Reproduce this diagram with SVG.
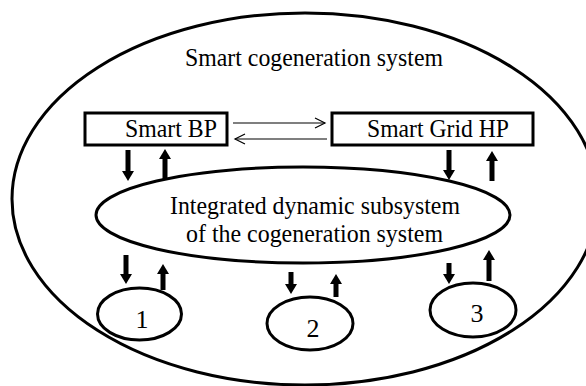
<svg xmlns="http://www.w3.org/2000/svg" width="586" height="386" viewBox="0 0 586 386">
<style>
.shape{fill:none;stroke:#000;stroke-width:3}
.box{fill:#fff;stroke:#000;stroke-width:3}
.t{font-family:"Liberation Serif","Times New Roman",serif;font-size:26px;fill:#000}
.thick{stroke:#000;stroke-width:5;fill:none}
.thin{stroke:#000;stroke-width:1.2;fill:none}
</style>
<defs>
<marker id="head" markerUnits="userSpaceOnUse" markerWidth="10" markerHeight="12" refX="1" refY="6" orient="auto" overflow="visible">
<path d="M0,0 L10,6 L0,12 z" fill="#000"/>
</marker>
<marker id="open" markerUnits="userSpaceOnUse" markerWidth="10" markerHeight="10" refX="10" refY="5" orient="auto" overflow="visible">
<path d="M0,0 L10,5 L0,10" fill="none" stroke="#000" stroke-width="1.2"/>
</marker>
</defs>
<rect width="586" height="386" fill="#fff"/>
<g id="system">
<ellipse class="shape" cx="305" cy="199" rx="293" ry="186"/>
<text class="t" x="185" y="66" textLength="258" lengthAdjust="spacingAndGlyphs">Smart cogeneration system</text>
</g>
<g id="smart-bp">
<rect class="box" x="85" y="113" width="142" height="32"/>
<text class="t" x="125" y="137" textLength="92" lengthAdjust="spacingAndGlyphs">Smart BP</text>
</g>
<g id="smart-grid-hp">
<rect class="box" x="332" y="113" width="201" height="32"/>
<text class="t" x="367" y="137" textLength="142" lengthAdjust="spacingAndGlyphs">Smart Grid HP</text>
</g>
<g id="subsystem">
<ellipse class="shape" cx="303" cy="215" rx="207" ry="48"/>
<text class="t" x="170" y="214" textLength="290" lengthAdjust="spacingAndGlyphs">Integrated dynamic subsystem</text>
<text class="t" x="186" y="242" textLength="257" lengthAdjust="spacingAndGlyphs">of the cogeneration system</text>
</g>
<g id="node-1">
<ellipse class="shape" cx="139.5" cy="314" rx="42" ry="26"/>
<text class="t" x="142" y="328" text-anchor="middle">1</text>
</g>
<g id="node-2">
<ellipse class="shape" cx="310" cy="323.5" rx="43" ry="26.5"/>
<text class="t" x="313" y="337" text-anchor="middle">2</text>
</g>
<g id="node-3">
<ellipse class="shape" cx="473" cy="310" rx="43" ry="27"/>
<text class="t" x="477" y="322" text-anchor="middle">3</text>
</g>
<g id="connectors">
<path class="thin" d="M233,123 L325,123" marker-end="url(#open)"/>
<path class="thin" d="M327,139 L235,139" marker-end="url(#open)"/>
<path class="thick" d="M128,150 L128,172" marker-end="url(#head)"/>
<path class="thick" d="M165,180 L165,158" marker-end="url(#head)"/>
<path class="thick" d="M449,150 L449,171" marker-end="url(#head)"/>
<path class="thick" d="M492,181 L492,160" marker-end="url(#head)"/>
<path class="thick" d="M126,255 L126,275" marker-end="url(#head)"/>
<path class="thick" d="M163,290 L163,273" marker-end="url(#head)"/>
<path class="thick" d="M291,272 L291,285" marker-end="url(#head)"/>
<path class="thick" d="M336,297 L336,283" marker-end="url(#head)"/>
<path class="thick" d="M449,263 L449,275" marker-end="url(#head)"/>
<path class="thick" d="M489,281 L489,259" marker-end="url(#head)"/>
</g>
</svg>
